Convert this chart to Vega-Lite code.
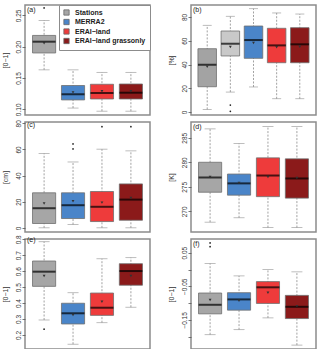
{
"$schema": "https://vega.github.io/schema/vega-lite/v6.json",
"background": "white",
"padding": {"left": 0, "top": 3, "right": 0, "bottom": 0},
"datasets": {
"stats": [
{"panel":"a","cat":"Stations","lo":0.163,"q1":0.190,"med":0.208,"q3":0.218,"hi":0.242,"mean":0.2054},
{"panel":"a","cat":"MERRA2","lo":0.102,"q1":0.115,"med":0.124,"q3":0.138,"hi":0.163,"mean":0.127},
{"panel":"a","cat":"ERAI−land","lo":0.097,"q1":0.1165,"med":0.126,"q3":0.140,"hi":0.159,"mean":0.1288},
{"panel":"a","cat":"ERAI−land grassonly","lo":0.097,"q1":0.1165,"med":0.1265,"q3":0.1404,"hi":0.159,"mean":0.1288},
{"panel":"b","cat":"Stations","lo":2.2,"q1":21.3,"med":39.8,"q3":53.3,"hi":73.0,"mean":38.2},
{"panel":"b","cat":"Stations2","lo":16.8,"q1":47.2,"med":57.5,"q3":68.2,"hi":80.6,"mean":54.7},
{"panel":"b","cat":"MERRA2","lo":21.1,"q1":45.2,"med":60.6,"q3":72.4,"hi":87.0,"mean":58.1},
{"panel":"b","cat":"ERAI−land","lo":11.2,"q1":41.5,"med":56.1,"q3":70.5,"hi":83.4,"mean":54.5},
{"panel":"b","cat":"ERAI−land grassonly","lo":11.2,"q1":41.5,"med":57.0,"q3":71.0,"hi":82.5,"mean":55.0},
{"panel":"c","cat":"Stations","lo":0,"q1":3.3,"med":15.0,"q3":26.8,"hi":56.9,"mean":18.6},
{"panel":"c","cat":"MERRA2","lo":2.5,"q1":7.1,"med":17.3,"q3":26.8,"hi":50.4,"mean":20.3},
{"panel":"c","cat":"ERAI−land","lo":0,"q1":4.8,"med":16.1,"q3":27.8,"hi":60.2,"mean":19.3},
{"panel":"c","cat":"ERAI−land grassonly","lo":0,"q1":5.8,"med":21.6,"q3":33.6,"hi":58.9,"mean":22.9},
{"panel":"d","cat":"Stations","lo":267.8,"q1":273.9,"med":276.9,"q3":280.0,"hi":286.8,"mean":277.0},
{"panel":"d","cat":"MERRA2","lo":268.7,"q1":273.3,"med":275.7,"q3":277.6,"hi":283.8,"mean":275.8},
{"panel":"d","cat":"ERAI−land","lo":266.7,"q1":273.0,"med":277.3,"q3":280.9,"hi":287.3,"mean":277.0},
{"panel":"d","cat":"ERAI−land grassonly","lo":266.7,"q1":272.7,"med":276.7,"q3":280.7,"hi":287.3,"mean":276.8},
{"panel":"e","cat":"Stations","lo":0.294,"q1":0.505,"med":0.597,"q3":0.664,"hi":0.785,"mean":0.570},
{"panel":"e","cat":"MERRA2","lo":0.142,"q1":0.269,"med":0.336,"q3":0.399,"hi":0.465,"mean":0.325},
{"panel":"e","cat":"ERAI−land","lo":0.277,"q1":0.323,"med":0.371,"q3":0.463,"hi":0.678,"mean":0.409},
{"panel":"e","cat":"ERAI−land grassonly","lo":0.374,"q1":0.512,"med":0.601,"q3":0.647,"hi":0.685,"mean":0.570},
{"panel":"f","cat":"Stations","lo":-0.194,"q1":-0.132,"med":-0.105,"q3":-0.070,"hi":0.018,"mean":-0.091},
{"panel":"f","cat":"MERRA2","lo":-0.179,"q1":-0.121,"med":-0.089,"q3":-0.069,"hi":-0.019,"mean":-0.093},
{"panel":"f","cat":"ERAI−land","lo":-0.144,"q1":-0.101,"med":-0.053,"q3":-0.036,"hi":0.000,"mean":-0.069},
{"panel":"f","cat":"ERAI−land grassonly","lo":-0.225,"q1":-0.146,"med":-0.111,"q3":-0.077,"hi":-0.007,"mean":-0.109}
],
"outliers": [
{"panel":"a","cat":"Stations","v":0.262},
{"panel":"b","cat":"Stations2","v":5.9},
{"panel":"b","cat":"Stations2","v":0.6},
{"panel":"c","cat":"MERRA2","v":64.2},
{"panel":"c","cat":"MERRA2","v":60.4},
{"panel":"c","cat":"ERAI−land","v":77.4},
{"panel":"c","cat":"ERAI−land grassonly","v":77.4},
{"panel":"e","cat":"Stations","v":0.236},
{"panel":"f","cat":"Stations","v":0.079},
{"panel":"f","cat":"Stations","v":0.068}
]
},
"columns": 2,
"spacing": {"row": 7, "column": 41},
"bounds": "flush",
"resolve": {"scale": {"x": "independent", "y": "independent", "color": "independent"}, "legend": {"color": "independent"}},
"concat": [
{
"title": {"text": "(a)"},
"width": 125, "height": 110,
"layer": [
{"data": {"name": "stats"}, "transform": [{"filter": "datum.panel === 'a'"}],
"encoding": {"x": {"field": "cat", "type": "nominal", "scale": {"domain": ["Stations","MERRA2","ERAI−land","ERAI−land grassonly"], "paddingInner": 0.2, "paddingOuter": 0.26}, "axis": null}},
"layer": [
{"mark": {"type": "rule", "strokeDash": [2, 1.5], "color": "#8a8a8a", "strokeWidth": 0.8},
 "encoding": {"y": {"field": "lo", "type": "quantitative", "title": "[0−1]", "scale": {"domain": [0.0909, 0.2666], "nice": false, "zero": false}, "axis": {"values": [0.1, 0.15, 0.2, 0.25], "format": ".2f", "labelOverlap": false}}, "y2": {"field": "hi"}}},
{"mark": {"type": "tick", "color": "#8a8a8a", "size": 11, "thickness": 0.8}, "encoding": {"y": {"field": "lo", "type": "quantitative", "title": "[0−1]", "axis": {"values": [0.1, 0.15, 0.2, 0.25], "format": ".2f", "labelOverlap": false}}}},
{"mark": {"type": "tick", "color": "#8a8a8a", "size": 11, "thickness": 0.8}, "encoding": {"y": {"field": "hi", "type": "quantitative", "title": "[0−1]", "axis": {"values": [0.1, 0.15, 0.2, 0.25], "format": ".2f", "labelOverlap": false}}}},
{"mark": {"type": "bar", "stroke": "#6e6e6e", "strokeWidth": 0.8},
 "encoding": {"y": {"field": "q1", "type": "quantitative", "title": "[0−1]", "axis": {"values": [0.1, 0.15, 0.2, 0.25], "format": ".2f", "labelOverlap": false}}, "y2": {"field": "q3"},
  "color": {"field": "cat", "type": "nominal", "scale": {"domain": ["Stations","MERRA2","ERAI−land","ERAI−land grassonly"], "range": ["#a6a6a6","#4a85c9","#ee3b3b","#8b1a1a"]},
   "legend": {"title": null, "orient": "top-right", "offset": 0, "strokeColor": "#8c8c8c", "fillColor": "white", "padding": 4, "symbolType": "square", "symbolSize": 28, "symbolStrokeColor": "#666", "symbolStrokeWidth": 0.8, "labelFontSize": 7, "labelFontWeight": "bold", "labelColor": "#222", "rowPadding": 0.5, "labelOffset": 5}}}},
{"mark": {"type": "tick", "color": "black", "size": 23, "thickness": 2}, "encoding": {"y": {"field": "med", "type": "quantitative", "title": "[0−1]", "axis": {"values": [0.1, 0.15, 0.2, 0.25], "format": ".2f", "labelOverlap": false}}}},
{"mark": {"type": "point", "shape": "triangle-down", "filled": true, "size": 8, "color": "#333", "opacity": 1}, "encoding": {"y": {"field": "mean", "type": "quantitative", "title": "[0−1]", "axis": {"values": [0.1, 0.15, 0.2, 0.25], "format": ".2f", "labelOverlap": false}}}}
]},
{"data": {"name": "outliers"}, "transform": [{"filter": "datum.panel === 'a'"}],
 "mark": {"type": "point", "filled": true, "size": 3, "color": "#222", "opacity": 1},
 "encoding": {"x": {"field": "cat", "type": "nominal", "scale": {"domain": ["Stations","MERRA2","ERAI−land","ERAI−land grassonly"], "paddingInner": 0.2, "paddingOuter": 0.26}, "axis": null}, "y": {"field": "v", "type": "quantitative", "title": "[0−1]", "axis": {"values": [0.1, 0.15, 0.2, 0.25], "format": ".2f", "labelOverlap": false}}}}
]
},
{
"title": {"text": "(b)"},
"width": 125, "height": 110,
"layer": [
{"data": {"name": "stats"}, "transform": [{"filter": "datum.panel === 'b'"}],
"encoding": {"x": {"field": "cat", "type": "nominal", "scale": {"domain": ["Stations","Stations2","MERRA2","ERAI−land","ERAI−land grassonly"], "paddingInner": 0.2, "paddingOuter": 0.3}, "axis": null}},
"layer": [
{"mark": {"type": "rule", "strokeDash": [2, 1.5], "color": "#8a8a8a", "strokeWidth": 0.8},
 "encoding": {"y": {"field": "lo", "type": "quantitative", "title": "[%]", "scale": {"domain": [-2.5, 90.1], "nice": false, "zero": false}, "axis": {"values": [0, 20, 40, 60, 80], "labelOverlap": false}}, "y2": {"field": "hi"}}},
{"mark": {"type": "tick", "color": "#8a8a8a", "size": 9, "thickness": 0.8}, "encoding": {"y": {"field": "lo", "type": "quantitative", "title": "[%]", "axis": {"values": [0, 20, 40, 60, 80], "labelOverlap": false}}}},
{"mark": {"type": "tick", "color": "#8a8a8a", "size": 9, "thickness": 0.8}, "encoding": {"y": {"field": "hi", "type": "quantitative", "title": "[%]", "axis": {"values": [0, 20, 40, 60, 80], "labelOverlap": false}}}},
{"mark": {"type": "bar", "stroke": "#6e6e6e", "strokeWidth": 0.8},
 "encoding": {"y": {"field": "q1", "type": "quantitative", "title": "[%]", "axis": {"values": [0, 20, 40, 60, 80], "labelOverlap": false}}, "y2": {"field": "q3"},
  "color": {"field": "cat", "type": "nominal", "scale": {"domain": ["Stations","Stations2","MERRA2","ERAI−land","ERAI−land grassonly"], "range": ["#a3a3a3","#c9c9c9","#4a85c9","#ee3b3b","#8b1a1a"]}, "legend": null}}},
{"mark": {"type": "tick", "color": "black", "size": 18.5, "thickness": 2}, "encoding": {"y": {"field": "med", "type": "quantitative", "title": "[%]", "axis": {"values": [0, 20, 40, 60, 80], "labelOverlap": false}}}},
{"mark": {"type": "point", "shape": "triangle-down", "filled": true, "size": 8, "color": "#333", "opacity": 1}, "encoding": {"y": {"field": "mean", "type": "quantitative", "title": "[%]", "axis": {"values": [0, 20, 40, 60, 80], "labelOverlap": false}}}}
]},
{"data": {"name": "outliers"}, "transform": [{"filter": "datum.panel === 'b'"}],
 "mark": {"type": "point", "filled": true, "size": 3, "color": "#222", "opacity": 1},
 "encoding": {"x": {"field": "cat", "type": "nominal", "scale": {"domain": ["Stations","Stations2","MERRA2","ERAI−land","ERAI−land grassonly"], "paddingInner": 0.2, "paddingOuter": 0.3}, "axis": null}, "y": {"field": "v", "type": "quantitative", "title": "[%]", "axis": {"values": [0, 20, 40, 60, 80], "labelOverlap": false}}}}
]
},
{
"title": {"text": "(c)"},
"width": 125, "height": 110,
"layer": [
{"data": {"name": "stats"}, "transform": [{"filter": "datum.panel === 'c'"}],
"encoding": {"x": {"field": "cat", "type": "nominal", "scale": {"domain": ["Stations","MERRA2","ERAI−land","ERAI−land grassonly"], "paddingInner": 0.2, "paddingOuter": 0.26}, "axis": null}},
"layer": [
{"mark": {"type": "rule", "strokeDash": [2, 1.5], "color": "#8a8a8a", "strokeWidth": 0.8},
 "encoding": {"y": {"field": "lo", "type": "quantitative", "title": "[cm]", "scale": {"domain": [-3.2, 81.0], "nice": false, "zero": false}, "axis": {"values": [0, 20, 40, 60, 80], "labelOverlap": false}}, "y2": {"field": "hi"}}},
{"mark": {"type": "tick", "color": "#8a8a8a", "size": 11, "thickness": 0.8}, "encoding": {"y": {"field": "lo", "type": "quantitative", "title": "[cm]", "axis": {"values": [0, 20, 40, 60, 80], "labelOverlap": false}}}},
{"mark": {"type": "tick", "color": "#8a8a8a", "size": 11, "thickness": 0.8}, "encoding": {"y": {"field": "hi", "type": "quantitative", "title": "[cm]", "axis": {"values": [0, 20, 40, 60, 80], "labelOverlap": false}}}},
{"mark": {"type": "bar", "stroke": "#6e6e6e", "strokeWidth": 0.8},
 "encoding": {"y": {"field": "q1", "type": "quantitative", "title": "[cm]", "axis": {"values": [0, 20, 40, 60, 80], "labelOverlap": false}}, "y2": {"field": "q3"},
  "color": {"field": "cat", "type": "nominal", "scale": {"domain": ["Stations","MERRA2","ERAI−land","ERAI−land grassonly"], "range": ["#a6a6a6","#4a85c9","#ee3b3b","#8b1a1a"]}, "legend": null}}},
{"mark": {"type": "tick", "color": "black", "size": 23, "thickness": 2}, "encoding": {"y": {"field": "med", "type": "quantitative", "title": "[cm]", "axis": {"values": [0, 20, 40, 60, 80], "labelOverlap": false}}}},
{"mark": {"type": "point", "shape": "triangle-down", "filled": true, "size": 8, "color": "#333", "opacity": 1}, "encoding": {"y": {"field": "mean", "type": "quantitative", "title": "[cm]", "axis": {"values": [0, 20, 40, 60, 80], "labelOverlap": false}}}}
]},
{"data": {"name": "outliers"}, "transform": [{"filter": "datum.panel === 'c'"}],
 "mark": {"type": "point", "filled": true, "size": 3, "color": "#222", "opacity": 1},
 "encoding": {"x": {"field": "cat", "type": "nominal", "scale": {"domain": ["Stations","MERRA2","ERAI−land","ERAI−land grassonly"], "paddingInner": 0.2, "paddingOuter": 0.26}, "axis": null}, "y": {"field": "v", "type": "quantitative", "title": "[cm]", "axis": {"values": [0, 20, 40, 60, 80], "labelOverlap": false}}}}
]
},
{
"title": {"text": "(d)"},
"width": 125, "height": 110,
"layer": [
{"data": {"name": "stats"}, "transform": [{"filter": "datum.panel === 'd'"}],
"encoding": {"x": {"field": "cat", "type": "nominal", "scale": {"domain": ["Stations","MERRA2","ERAI−land","ERAI−land grassonly"], "paddingInner": 0.2, "paddingOuter": 0.26}, "axis": null}},
"layer": [
{"mark": {"type": "rule", "strokeDash": [2, 1.5], "color": "#8a8a8a", "strokeWidth": 0.8},
 "encoding": {"y": {"field": "lo", "type": "quantitative", "title": "[K]", "scale": {"domain": [265.8, 288.2], "nice": false, "zero": false}, "axis": {"values": [270, 275, 280, 285], "labelOverlap": false}}, "y2": {"field": "hi"}}},
{"mark": {"type": "tick", "color": "#8a8a8a", "size": 11, "thickness": 0.8}, "encoding": {"y": {"field": "lo", "type": "quantitative", "title": "[K]", "axis": {"values": [270, 275, 280, 285], "labelOverlap": false}}}},
{"mark": {"type": "tick", "color": "#8a8a8a", "size": 11, "thickness": 0.8}, "encoding": {"y": {"field": "hi", "type": "quantitative", "title": "[K]", "axis": {"values": [270, 275, 280, 285], "labelOverlap": false}}}},
{"mark": {"type": "bar", "stroke": "#6e6e6e", "strokeWidth": 0.8},
 "encoding": {"y": {"field": "q1", "type": "quantitative", "title": "[K]", "axis": {"values": [270, 275, 280, 285], "labelOverlap": false}}, "y2": {"field": "q3"},
  "color": {"field": "cat", "type": "nominal", "scale": {"domain": ["Stations","MERRA2","ERAI−land","ERAI−land grassonly"], "range": ["#a6a6a6","#4a85c9","#ee3b3b","#8b1a1a"]}, "legend": null}}},
{"mark": {"type": "tick", "color": "black", "size": 23, "thickness": 2}, "encoding": {"y": {"field": "med", "type": "quantitative", "title": "[K]", "axis": {"values": [270, 275, 280, 285], "labelOverlap": false}}}},
{"mark": {"type": "point", "shape": "triangle-down", "filled": true, "size": 8, "color": "#333", "opacity": 1}, "encoding": {"y": {"field": "mean", "type": "quantitative", "title": "[K]", "axis": {"values": [270, 275, 280, 285], "labelOverlap": false}}}}
]}
]
},
{
"title": {"text": "(e)"},
"width": 125, "height": 110,
"layer": [
{"data": {"name": "stats"}, "transform": [{"filter": "datum.panel === 'e'"}],
"encoding": {"x": {"field": "cat", "type": "nominal", "scale": {"domain": ["Stations","MERRA2","ERAI−land","ERAI−land grassonly"], "paddingInner": 0.2, "paddingOuter": 0.26}, "axis": null}},
"layer": [
{"mark": {"type": "rule", "strokeDash": [2, 1.5], "color": "#8a8a8a", "strokeWidth": 0.8},
 "encoding": {"y": {"field": "lo", "type": "quantitative", "title": "[0−1]", "scale": {"domain": [0.112, 0.802], "nice": false, "zero": false}, "axis": {"values": [0.2, 0.3, 0.4, 0.5, 0.6, 0.7, 0.8], "format": ".1f", "labelOverlap": false}}, "y2": {"field": "hi"}}},
{"mark": {"type": "tick", "color": "#8a8a8a", "size": 11, "thickness": 0.8}, "encoding": {"y": {"field": "lo", "type": "quantitative", "title": "[0−1]", "axis": {"values": [0.2, 0.3, 0.4, 0.5, 0.6, 0.7, 0.8], "format": ".1f", "labelOverlap": false}}}},
{"mark": {"type": "tick", "color": "#8a8a8a", "size": 11, "thickness": 0.8}, "encoding": {"y": {"field": "hi", "type": "quantitative", "title": "[0−1]", "axis": {"values": [0.2, 0.3, 0.4, 0.5, 0.6, 0.7, 0.8], "format": ".1f", "labelOverlap": false}}}},
{"mark": {"type": "bar", "stroke": "#6e6e6e", "strokeWidth": 0.8},
 "encoding": {"y": {"field": "q1", "type": "quantitative", "title": "[0−1]", "axis": {"values": [0.2, 0.3, 0.4, 0.5, 0.6, 0.7, 0.8], "format": ".1f", "labelOverlap": false}}, "y2": {"field": "q3"},
  "color": {"field": "cat", "type": "nominal", "scale": {"domain": ["Stations","MERRA2","ERAI−land","ERAI−land grassonly"], "range": ["#a6a6a6","#4a85c9","#ee3b3b","#8b1a1a"]}, "legend": null}}},
{"mark": {"type": "tick", "color": "black", "size": 23, "thickness": 2}, "encoding": {"y": {"field": "med", "type": "quantitative", "title": "[0−1]", "axis": {"values": [0.2, 0.3, 0.4, 0.5, 0.6, 0.7, 0.8], "format": ".1f", "labelOverlap": false}}}},
{"mark": {"type": "point", "shape": "triangle-down", "filled": true, "size": 8, "color": "#333", "opacity": 1}, "encoding": {"y": {"field": "mean", "type": "quantitative", "title": "[0−1]", "axis": {"values": [0.2, 0.3, 0.4, 0.5, 0.6, 0.7, 0.8], "format": ".1f", "labelOverlap": false}}}}
]},
{"data": {"name": "outliers"}, "transform": [{"filter": "datum.panel === 'e'"}],
 "mark": {"type": "point", "filled": true, "size": 3, "color": "#222", "opacity": 1},
 "encoding": {"x": {"field": "cat", "type": "nominal", "scale": {"domain": ["Stations","MERRA2","ERAI−land","ERAI−land grassonly"], "paddingInner": 0.2, "paddingOuter": 0.26}, "axis": null}, "y": {"field": "v", "type": "quantitative", "title": "[0−1]", "axis": {"values": [0.2, 0.3, 0.4, 0.5, 0.6, 0.7, 0.8], "format": ".1f", "labelOverlap": false}}}}
]
},
{
"title": {"text": "(f)"},
"width": 125, "height": 110,
"layer": [
{"data": {"name": "stats"}, "transform": [{"filter": "datum.panel === 'f'"}],
"encoding": {"x": {"field": "cat", "type": "nominal", "scale": {"domain": ["Stations","MERRA2","ERAI−land","ERAI−land grassonly"], "paddingInner": 0.2, "paddingOuter": 0.26}, "axis": null}},
"layer": [
{"mark": {"type": "rule", "strokeDash": [2, 1.5], "color": "#8a8a8a", "strokeWidth": 0.8},
 "encoding": {"y": {"field": "lo", "type": "quantitative", "title": "[0−1]", "scale": {"domain": [-0.2366, 0.0908], "nice": false, "zero": false}, "axis": {"values": [-0.2, -0.15, -0.1, -0.05, 0, 0.05], "format": ".2f", "labelOverlap": false, "labelExpr": "(abs(datum.value - 0.05) < 0.001 || abs(datum.value + 0.05) < 0.001 || abs(datum.value + 0.15) < 0.001) ? datum.label : ''"}}, "y2": {"field": "hi"}}},
{"mark": {"type": "tick", "color": "#8a8a8a", "size": 11, "thickness": 0.8}, "encoding": {"y": {"field": "lo", "type": "quantitative", "title": "[0−1]", "axis": {"values": [-0.2, -0.15, -0.1, -0.05, 0, 0.05], "format": ".2f", "labelOverlap": false, "labelExpr": "(abs(datum.value - 0.05) < 0.001 || abs(datum.value + 0.05) < 0.001 || abs(datum.value + 0.15) < 0.001) ? datum.label : ''"}}}},
{"mark": {"type": "tick", "color": "#8a8a8a", "size": 11, "thickness": 0.8}, "encoding": {"y": {"field": "hi", "type": "quantitative", "title": "[0−1]", "axis": {"values": [-0.2, -0.15, -0.1, -0.05, 0, 0.05], "format": ".2f", "labelOverlap": false, "labelExpr": "(abs(datum.value - 0.05) < 0.001 || abs(datum.value + 0.05) < 0.001 || abs(datum.value + 0.15) < 0.001) ? datum.label : ''"}}}},
{"mark": {"type": "bar", "stroke": "#6e6e6e", "strokeWidth": 0.8},
 "encoding": {"y": {"field": "q1", "type": "quantitative", "title": "[0−1]", "axis": {"values": [-0.2, -0.15, -0.1, -0.05, 0, 0.05], "format": ".2f", "labelOverlap": false, "labelExpr": "(abs(datum.value - 0.05) < 0.001 || abs(datum.value + 0.05) < 0.001 || abs(datum.value + 0.15) < 0.001) ? datum.label : ''"}}, "y2": {"field": "q3"},
  "color": {"field": "cat", "type": "nominal", "scale": {"domain": ["Stations","MERRA2","ERAI−land","ERAI−land grassonly"], "range": ["#a6a6a6","#4a85c9","#ee3b3b","#8b1a1a"]}, "legend": null}}},
{"mark": {"type": "tick", "color": "black", "size": 23, "thickness": 2}, "encoding": {"y": {"field": "med", "type": "quantitative", "title": "[0−1]", "axis": {"values": [-0.2, -0.15, -0.1, -0.05, 0, 0.05], "format": ".2f", "labelOverlap": false, "labelExpr": "(abs(datum.value - 0.05) < 0.001 || abs(datum.value + 0.05) < 0.001 || abs(datum.value + 0.15) < 0.001) ? datum.label : ''"}}}},
{"mark": {"type": "point", "shape": "triangle-down", "filled": true, "size": 8, "color": "#333", "opacity": 1}, "encoding": {"y": {"field": "mean", "type": "quantitative", "title": "[0−1]", "axis": {"values": [-0.2, -0.15, -0.1, -0.05, 0, 0.05], "format": ".2f", "labelOverlap": false, "labelExpr": "(abs(datum.value - 0.05) < 0.001 || abs(datum.value + 0.05) < 0.001 || abs(datum.value + 0.15) < 0.001) ? datum.label : ''"}}}}
]},
{"data": {"name": "outliers"}, "transform": [{"filter": "datum.panel === 'f'"}],
 "mark": {"type": "point", "filled": true, "size": 3, "color": "#222", "opacity": 1},
 "encoding": {"x": {"field": "cat", "type": "nominal", "scale": {"domain": ["Stations","MERRA2","ERAI−land","ERAI−land grassonly"], "paddingInner": 0.2, "paddingOuter": 0.26}, "axis": null}, "y": {"field": "v", "type": "quantitative", "title": "[0−1]", "axis": {"values": [-0.2, -0.15, -0.1, -0.05, 0, 0.05], "format": ".2f", "labelOverlap": false, "labelExpr": "(abs(datum.value - 0.05) < 0.001 || abs(datum.value + 0.05) < 0.001 || abs(datum.value + 0.15) < 0.001) ? datum.label : ''"}}}}
]
}
],
"config": {
"font": "Liberation Sans",
"view": {"stroke": "#8c8c8c", "strokeWidth": 1.5},
"axis": {"grid": false, "domain": false, "tickSize": 3, "tickColor": "#555", "tickWidth": 0.8, "labelFontSize": 6.5, "labelColor": "#333", "labelPadding": 1, "titleFontSize": 7, "titleFontWeight": "normal", "titleColor": "#333", "labelOverlap": false, "labelAngle": 270, "titlePadding": 7},
"title": {"anchor": "start", "frame": "group", "fontSize": 7, "fontWeight": "normal", "color": "#222", "offset": -8, "baseline": "top", "dx": 2}
}
}
